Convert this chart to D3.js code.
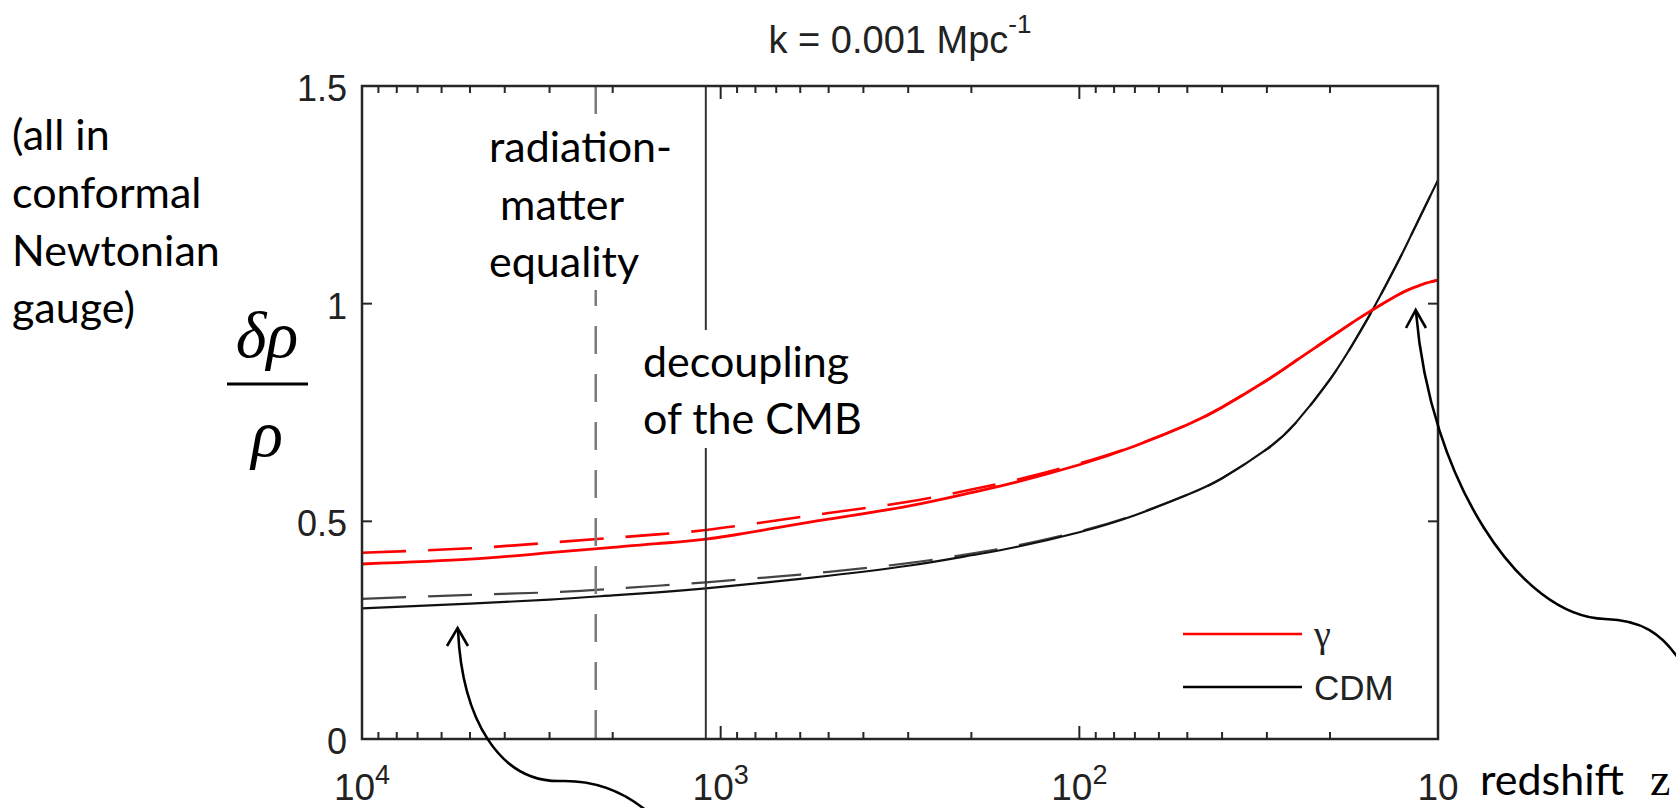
<!DOCTYPE html>
<html><head><meta charset="utf-8">
<script src="https://cdn.jsdelivr.net/npm/d3@7"></script>
<style>body{margin:0;background:#fff;} svg{display:block}</style>
</head><body>
<svg id="chart" width="1676" height="808"></svg>
<script>
// ---------- data ----------
const redshift    = [10000,5000,3000,2000,1500,1100,700,500,300,200,150,100,70,50,40,30,25,20,17,15,13,12,11,10];
const gammaSolid  = [0.402,0.413,0.428,0.440,0.449,0.459,0.485,0.505,0.535,0.566,0.590,0.630,0.673,0.722,0.762,0.824,0.868,0.922,0.961,0.989,1.019,1.033,1.045,1.054];
const gammaDashed = [0.428,0.438,0.451,0.462,0.470,0.480,0.502,0.519,0.545,0.573,0.595,0.633,0.674,0.722,0.762,0.824,0.868,0.922,0.961,0.989,1.019,1.033,1.045,1.054];
const cdmSolid    = [0.300,0.311,0.320,0.330,0.337,0.346,0.362,0.375,0.398,0.422,0.441,0.475,0.514,0.561,0.599,0.666,0.725,0.826,0.917,0.995,1.092,1.150,1.214,1.284];
const cdmDashed   = [0.322,0.331,0.337,0.345,0.352,0.360,0.373,0.384,0.404,0.426,0.444,0.477,0.515,0.561,0.599,0.666,0.725,0.826,0.917,0.995,1.092,1.150,1.214,1.284];
const xTickValues = [10000,1000,100,10];
const xTickBase   = ["10","10","10","10"];
const xTickExp    = ["4","3","2",""];
const xMinorTicks = [9000,8000,7000,6000,5000,4000,3000,2000,900,800,700,600,500,400,300,200,90,80,70,60,50,40,30,20];
const yTickValues = [0,0.5,1,1.5];
const yTickLabels = ["0","0.5","1","1.5"];
const zEquality   = 2230;
const zDecoupling = 1100;
const legendNames = ["γ","CDM"];
const legendColors= ["#ff0000","#000000"];

// ---------- layout ----------
const svg = d3.select("#chart");
const L = 362, R = 1438, T = 86, B = 739;
const x = d3.scaleLog().domain([10000,10]).range([L,R]);
const y = d3.scaleLinear().domain([0,1.5]).range([B,T]);
const helv = "'Liberation Sans', Arial, sans-serif";
const cal  = "Lato, 'Open Sans', sans-serif";
const serif= "'Liberation Serif', 'Times New Roman', serif";

const line = d3.line().x(d => x(d[0])).y(d => y(d[1])).curve(d3.curveNatural);
const pts = arr => redshift.map((z,i)=>[z,arr[i]]);

// curves
svg.append("path").attr("d", line(pts(cdmDashed))).attr("fill","none")
  .attr("stroke","#444").attr("stroke-width",2.2).attr("stroke-dasharray","44,22");
svg.append("path").attr("d", line(pts(gammaDashed))).attr("fill","none")
  .attr("stroke","#ff0000").attr("stroke-width",2.6).attr("stroke-dasharray","44,22");
svg.append("path").attr("d", line(pts(cdmSolid))).attr("fill","none")
  .attr("stroke","#111").attr("stroke-width",2.2);
svg.append("path").attr("d", line(pts(gammaSolid))).attr("fill","none")
  .attr("stroke","#ff0000").attr("stroke-width",2.8);

// vertical markers
svg.append("line").attr("x1",x(zEquality)).attr("x2",x(zEquality)).attr("y1",y(1.5)).attr("y2",y(0))
  .attr("stroke","#7a7a7a").attr("stroke-width",2.5).attr("stroke-dasharray","28,20");
svg.append("line").attr("x1",x(zDecoupling)).attr("x2",x(zDecoupling)).attr("y1",y(1.5)).attr("y2",y(0))
  .attr("stroke","#333").attr("stroke-width",2);

// axes box
const ax = svg.append("g").attr("stroke","#262626").attr("fill","none").attr("stroke-width",2.5);
ax.append("rect").attr("x",L).attr("y",T).attr("width",R-L).attr("height",B-T);

const tickG = svg.append("g").attr("stroke","#262626").attr("stroke-width",2);
xTickValues.forEach(v=>{
  tickG.append("line").attr("x1",x(v)).attr("x2",x(v)).attr("y1",B).attr("y2",B-13);
  tickG.append("line").attr("x1",x(v)).attr("x2",x(v)).attr("y1",T).attr("y2",T+13);
});
xMinorTicks.forEach(v=>{
  tickG.append("line").attr("x1",x(v)).attr("x2",x(v)).attr("y1",B).attr("y2",B-7);
  tickG.append("line").attr("x1",x(v)).attr("x2",x(v)).attr("y1",T).attr("y2",T+7);
});
yTickValues.forEach(v=>{
  tickG.append("line").attr("x1",L).attr("x2",L+10).attr("y1",y(v)).attr("y2",y(v));
  tickG.append("line").attr("x1",R).attr("x2",R-10).attr("y1",y(v)).attr("y2",y(v));
});

// tick labels
xTickValues.forEach((v,i)=>{
  const t = svg.append("text").attr("x",x(v)).attr("y",800).attr("text-anchor","middle")
    .attr("font-family",helv).attr("font-size",37).attr("fill","#222");
  t.append("tspan").text(xTickBase[i]);
  if (xTickExp[i]) t.append("tspan").attr("dy",-16).attr("font-size",27).text(xTickExp[i]);
});
yTickValues.forEach((v,i)=>{
  svg.append("text").attr("x",347).attr("y",y(v)+15).attr("text-anchor","end")
    .attr("font-family",helv).attr("font-size",36).attr("fill","#222").text(yTickLabels[i]);
});

// title
const title = svg.append("text").attr("x",(L+R)/2).attr("y",53).attr("text-anchor","middle")
  .attr("font-family",helv).attr("font-size",38).attr("fill","#222");
title.append("tspan").text("k = 0.001 Mpc");
title.append("tspan").attr("dy",-20).attr("font-size",26).text("-1");

// y label  δρ / ρ
svg.append("text").attr("x",267).attr("y",357).attr("text-anchor","middle")
  .attr("font-family",serif).attr("font-style","italic").attr("font-size",66).text("δρ");
svg.append("line").attr("x1",227).attr("x2",308).attr("y1",384).attr("y2",384)
  .attr("stroke","#000").attr("stroke-width",3);
svg.append("text").attr("x",267).attr("y",456).attr("text-anchor","middle")
  .attr("font-family",serif).attr("font-style","italic").attr("font-size",66).text("ρ");

// legend
[634,687].forEach((ly,i)=>{
  svg.append("line").attr("x1",1183).attr("x2",1302).attr("y1",ly).attr("y2",ly)
    .attr("stroke",legendColors[i]).attr("stroke-width",2.5);
  svg.append("text").attr("x",1314).attr("y",ly+13)
    .attr("font-family", i===0 ? serif : helv).attr("font-size",i===0 ? 38 : 35)
    .attr("fill","#222").text(legendNames[i]);
});

// annotation text boxes
svg.append("rect").attr("x",482).attr("y",118).attr("width",198).attr("height",172).attr("fill","#fff");
svg.append("rect").attr("x",636).attr("y",330).attr("width",230).attr("height",118).attr("fill","#fff");

function block(lines, x0, y0, dy, size){
  lines.forEach((s,i)=>{
    svg.append("text").attr("x",x0).attr("y",y0+i*dy).attr("font-family",cal)
      .attr("font-size",size).attr("fill","#000").attr("xml:space","preserve").text(s);
  });
}
block(["(all in","conformal","Newtonian","gauge)"], 12, 150, 57.8, 43);
block(["radiation-"," matter","equality"], 489, 162, 57.5, 43);
block(["decoupling","of the CMB"], 643, 377, 56.6, 43);

svg.append("text").attr("x",1480).attr("y",795).attr("font-family",cal).attr("font-size",43).text("redshift");
svg.append("text").attr("x",1650).attr("y",795).attr("font-family",serif).attr("font-size",46).text("z");

// arrows
const arr = svg.append("g").attr("fill","none").attr("stroke","#000").attr("stroke-width",2.6);
arr.append("path").attr("d","M 648,812 C 622,790 592,780 560,781 C 500,782 462,720 458,630");
arr.append("path").attr("d","M 447,646 L 457.6,628 L 468,646");
arr.append("path").attr("d","M 1682,664 C 1662,632 1640,620 1605,619 C 1520,617 1430,480 1416,312");
arr.append("path").attr("d","M 1406,328 L 1415.7,310 L 1426,328");
</script>
</body></html>
